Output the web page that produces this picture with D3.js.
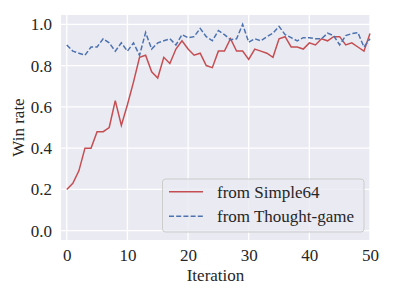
<!DOCTYPE html>
<html>
<head>
<meta charset="utf-8">
<script src="https://cdn.jsdelivr.net/npm/d3@7"></script>
<style>
  body { margin: 0; background: #fff; }
  text { font-family: "Liberation Serif", "Times New Roman", serif; fill: #262626; }
</style>
</head>
<body>
<div id="canvas"></div>
<script>
// data
const iterations = d3.range(0, 51);
const simple64 = [0.20,0.23,0.29,0.40,0.40,0.48,0.48,0.50,0.63,0.51,
  0.61,0.72,0.84,0.85,0.77,0.74,0.84,0.81,0.88,0.92,
  0.88,0.85,0.86,0.80,0.79,0.87,0.87,0.93,0.87,0.87,
  0.83,0.88,0.87,0.86,0.84,0.93,0.94,0.89,0.89,0.88,
  0.91,0.90,0.93,0.92,0.94,0.94,0.90,0.91,0.89,0.87,0.955];
const thoughtGame = [0.90,0.87,0.86,0.85,0.89,0.89,0.93,0.91,0.87,0.91,
  0.87,0.91,0.85,0.96,0.88,0.91,0.92,0.93,0.90,0.95,
  0.935,0.94,0.98,0.94,0.92,0.97,0.95,0.925,0.93,1.0,
  0.913,0.93,0.92,0.94,0.957,0.99,0.95,0.935,0.92,0.935,
  0.935,0.93,0.93,0.957,0.945,0.90,0.945,0.955,0.96,0.89,0.93];
const xTicks = [0, 10, 20, 30, 40, 50];
const yTicks = [0.0, 0.2, 0.4, 0.6, 0.8, 1.0];
const seriesNames = ['from Simple64', 'from Thought-game'];

const width = 394, height = 296;
const plotLeft = 61, plotRight = 370, plotTop = 15, plotBottom = 240;
const fontSize = 17;

const svg = d3.select('#canvas').append('svg')
  .attr('width', width)
  .attr('height', height);

const x = d3.scaleLinear().domain([-0.95, 50]).range([plotLeft, plotRight]);
const y = d3.scaleLinear().domain([-0.045, 1.045]).range([plotBottom, plotTop]);

// background
svg.append('rect')
  .attr('x', plotLeft).attr('y', plotTop)
  .attr('width', plotRight - plotLeft).attr('height', plotBottom - plotTop)
  .attr('fill', '#eaeaf2');

// grid
svg.append('g').selectAll('line')
  .data(xTicks)
  .enter().append('line')
  .attr('x1', d => x(d)).attr('x2', d => x(d))
  .attr('y1', plotTop).attr('y2', plotBottom)
  .attr('stroke', '#fff').attr('stroke-width', 1.3);

svg.append('g').selectAll('line')
  .data(yTicks)
  .enter().append('line')
  .attr('x1', plotLeft).attr('x2', plotRight)
  .attr('y1', d => y(d)).attr('y2', d => y(d))
  .attr('stroke', '#fff').attr('stroke-width', 1.3);

// axes (labels only, no spines)
const xAxis = svg.append('g')
  .attr('transform', `translate(0,${plotBottom})`)
  .call(d3.axisBottom(x).tickValues(xTicks).tickSize(0).tickPadding(9).tickFormat(d3.format('d')));
const yAxis = svg.append('g')
  .attr('transform', `translate(${plotLeft},0)`)
  .call(d3.axisLeft(y).tickValues(yTicks).tickSize(0).tickPadding(9).tickFormat(d3.format('.1f')));
[xAxis, yAxis].forEach(a => {
  a.select('.domain').remove();
  a.selectAll('text')
    .attr('font-size', fontSize)
    .attr('font-family', '"Liberation Serif", "Times New Roman", serif')
    .attr('fill', '#262626');
});

// axis titles
svg.append('text')
  .attr('x', (plotLeft + plotRight) / 2).attr('y', 280.5)
  .attr('text-anchor', 'middle')
  .attr('font-size', fontSize)
  .text('Iteration');

svg.append('text')
  .attr('transform', `translate(24,${(plotTop + plotBottom) / 2}) rotate(-90)`)
  .attr('text-anchor', 'middle')
  .attr('font-size', fontSize)
  .text('Win rate');

// lines
const line = d3.line()
  .x((d, i) => x(iterations[i]))
  .y(d => y(d));

svg.append('path')
  .datum(simple64)
  .attr('d', line)
  .attr('fill', 'none')
  .attr('stroke', '#c44e52')
  .attr('stroke-width', 1.5);

svg.append('path')
  .datum(thoughtGame)
  .attr('d', line)
  .attr('fill', 'none')
  .attr('stroke', '#4c72b0')
  .attr('stroke-width', 1.5)
  .attr('stroke-dasharray', '5,2.2');

// legend
const legend = svg.append('g');
legend.append('rect')
  .attr('x', 162.5).attr('y', 179)
  .attr('width', 201.5).attr('height', 53)
  .attr('rx', 3)
  .attr('fill', '#eaeaf2').attr('fill-opacity', 0.8)
  .attr('stroke', '#cccccc').attr('stroke-width', 1);

const colors = ['#c44e52', '#4c72b0'];
const dashes = [null, '5,2.2'];
seriesNames.forEach((name, i) => {
  const ly = 191.7 + i * 24.5;
  legend.append('line')
    .attr('x1', 169).attr('x2', 203)
    .attr('y1', ly).attr('y2', ly)
    .attr('stroke', colors[i]).attr('stroke-width', 1.5)
    .attr('stroke-dasharray', dashes[i]);
  legend.append('text')
    .attr('x', 217).attr('y', ly)
    .attr('dy', '0.35em')
    .attr('font-size', fontSize)
    .text(name);
});
</script>
</body>
</html>
